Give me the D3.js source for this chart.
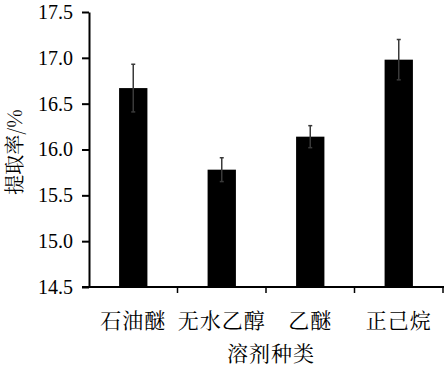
<!DOCTYPE html>
<html><head><meta charset="utf-8">
<script src="https://cdn.jsdelivr.net/npm/d3@7"></script>
<style>body{margin:0;background:#fff}svg{display:block}</style>
</head><body>
<script>
const categories = ["石油醚","无水乙醇","乙醚","正己烷"];
const values = [16.67, 15.78, 16.14, 16.98];
const errors = [0.26, 0.13, 0.12, 0.22];
const yTicks = [14.5, 15.0, 15.5, 16.0, 16.5, 17.0, 17.5];

const W = 445, H = 366;
const m = {left: 89, right: 2, top: 12, bottom: 79};
const serif = "'Liberation Serif','Times New Roman',serif";
const cjk = "'Noto Serif CJK SC','Noto Sans CJK SC',serif";
const svg = d3.select("body").append("svg").attr("width", W).attr("height", H);
const x = d3.scaleBand().domain(categories).range([m.left, W - m.right]).paddingInner(0.68).paddingOuter(0.34);
const y = d3.scaleLinear().domain([14.5, 17.5]).range([H - m.bottom, m.top]);

// bars
svg.selectAll("rect.bar").data(values).join("rect")
  .attr("x", (d,i) => x(categories[i])).attr("width", x.bandwidth())
  .attr("y", d => y(d)).attr("height", d => y(14.5) - y(d)).attr("fill", "#000");

// error bars
const cx = i => x(categories[i]) + x.bandwidth()/2;
const eg = svg.selectAll("g.err").data(values).join("g").attr("stroke", "#3a3a3a").attr("stroke-width", 1.5);
eg.append("line").attr("x1", (d,i) => cx(i)).attr("x2", (d,i) => cx(i))
  .attr("y1", (d,i) => y(d + errors[i])).attr("y2", (d,i) => y(d - errors[i]));
eg.append("line").attr("x1", (d,i) => cx(i) - 2).attr("x2", (d,i) => cx(i) + 2)
  .attr("y1", (d,i) => y(d + errors[i])).attr("y2", (d,i) => y(d + errors[i]));
eg.append("line").attr("x1", (d,i) => cx(i) - 2).attr("x2", (d,i) => cx(i) + 2)
  .attr("y1", (d,i) => y(d - errors[i])).attr("y2", (d,i) => y(d - errors[i]));

// y axis
const ya = svg.append("g").attr("transform", `translate(${m.left},0)`)
  .call(d3.axisLeft(y).tickValues(yTicks).tickFormat(d3.format(".1f")).tickSize(7).tickSizeOuter(0).tickPadding(9));
ya.attr("font-family", null);
ya.selectAll("text").style("font-family", serif).style("font-size", "20px").attr("fill", "#000");
ya.selectAll("line, path").attr("stroke", "#000").attr("stroke-width", 2);

// x axis
const xa = svg.append("g").attr("transform", `translate(0,${H - m.bottom})`);
xa.append("line").attr("x1", m.left - 7).attr("x2", W - m.right + 1).attr("stroke", "#000").attr("stroke-width", 2);
const bounds = categories.map(c => x(c) + x.bandwidth() + x.step()*x.paddingInner()/2);
xa.selectAll("line.tk").data(bounds).join("line").attr("class","tk")
  .attr("x1", d => d).attr("x2", d => d).attr("y1", 0).attr("y2", 6).attr("stroke", "#000").attr("stroke-width", 1.5);
xa.selectAll("text").data(categories).join("text")
  .attr("x", d => x(d) + x.bandwidth()/2).attr("y", 41).attr("text-anchor", "middle")
  .style("font-family", cjk).style("font-size", "21px").style("letter-spacing", "1px").attr("fill", "#000")
  .text(d => d);

// axis titles
svg.append("text").attr("x", 271).attr("y", 361).attr("text-anchor", "middle")
  .style("font-family", cjk).style("font-size", "21px").style("letter-spacing", "1px").attr("fill", "#000").text("溶剂种类");
svg.append("text").attr("transform", "translate(13,152) rotate(-90)").attr("text-anchor", "middle")
  .attr("dominant-baseline", "central")
  .style("font-family", cjk).style("font-size", "20px").attr("fill", "#000").text("提取率/%");
</script>
</body></html>
